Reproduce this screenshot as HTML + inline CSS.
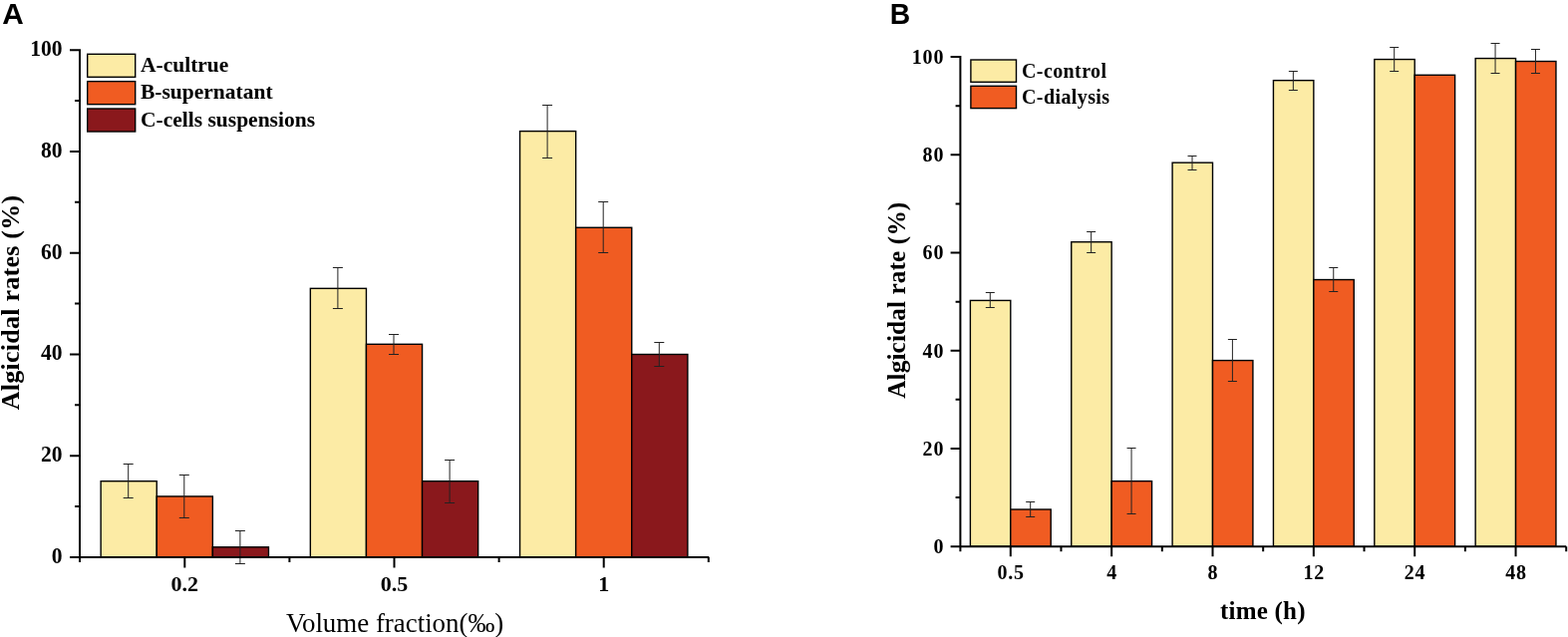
<!DOCTYPE html><html><head><meta charset="utf-8"><title>Algicidal rates</title>
<style>html,body{margin:0;padding:0;background:#fff;}svg{display:block;}.t{font-family:"Liberation Serif","Times New Roman",serif;font-weight:bold;fill:#000;}.r{font-family:"Liberation Serif","Times New Roman",serif;font-weight:normal;fill:#000;}.p{font-family:"Liberation Sans",Arial,sans-serif;font-weight:bold;fill:#000;}</style></head><body>
<svg width="1573" height="639" viewBox="0 0 1573 639">
<rect width="1573" height="639" fill="#fff"/>
<rect x="101.15" y="482.68" width="56.1" height="76.32" fill="#FCEBA5" stroke="#000" stroke-width="1.4"/>
<rect x="157.25" y="497.94" width="56.1" height="61.06" fill="#F05C22" stroke="#000" stroke-width="1.4"/>
<rect x="213.35" y="548.82" width="56.1" height="10.18" fill="#8A181C" stroke="#000" stroke-width="1.4"/>
<rect x="311.35" y="289.34" width="56.1" height="269.66" fill="#FCEBA5" stroke="#000" stroke-width="1.4"/>
<rect x="367.45" y="345.3" width="56.1" height="213.7" fill="#F05C22" stroke="#000" stroke-width="1.4"/>
<rect x="423.55" y="482.68" width="56.1" height="76.32" fill="#8A181C" stroke="#000" stroke-width="1.4"/>
<rect x="521.55" y="131.61" width="56.1" height="427.39" fill="#FCEBA5" stroke="#000" stroke-width="1.4"/>
<rect x="577.65" y="228.28" width="56.1" height="330.72" fill="#F05C22" stroke="#000" stroke-width="1.4"/>
<rect x="633.75" y="355.48" width="56.1" height="203.52" fill="#8A181C" stroke="#000" stroke-width="1.4"/>
<path d="M128.7 465.5V499.5M123.7 465.5H133.7M123.7 499.5H133.7" stroke="#222" stroke-width="1" fill="none"/>
<path d="M184.8 476.5V519.5M179.8 476.5H189.8M179.8 519.5H189.8" stroke="#222" stroke-width="1" fill="none"/>
<path d="M240.9 532.5V565.5M235.9 532.5H245.9M235.9 565.5H245.9" stroke="#222" stroke-width="1" fill="none"/>
<path d="M338.9 268.5V309.5M333.9 268.5H343.9M333.9 309.5H343.9" stroke="#222" stroke-width="1" fill="none"/>
<path d="M395 335.5V355.5M390 335.5H400M390 355.5H400" stroke="#222" stroke-width="1" fill="none"/>
<path d="M451.1 461.5V504.5M446.1 461.5H456.1M446.1 504.5H456.1" stroke="#222" stroke-width="1" fill="none"/>
<path d="M549.1 105.5V158.5M544.1 105.5H554.1M544.1 158.5H554.1" stroke="#222" stroke-width="1" fill="none"/>
<path d="M605.2 202.5V253.5M600.2 202.5H610.2M600.2 253.5H610.2" stroke="#222" stroke-width="1" fill="none"/>
<path d="M661.3 343.5V367.5M656.3 343.5H666.3M656.3 367.5H666.3" stroke="#222" stroke-width="1" fill="none"/>
<path d="M80 49.2V564M80 559H711.3M70 559H80M70 457.24H80M70 355.48H80M70 253.72H80M70 151.96H80M70 50.2H80M75 508.12H80M75 406.36H80M75 304.6H80M75 202.84H80M75 101.08H80M185.3 559V569.5M395.5 559V569.5M605.7 559V569.5M290.4 559V564M500.6 559V564M710.8 559V564" stroke="#000" stroke-width="2" fill="none"/>
<text class="t" transform="translate(62.6 564.85) scale(0.98 1.06)" font-size="22" text-anchor="end">0</text>
<text class="t" transform="translate(62.6 463.09) scale(0.98 1.06)" font-size="22" text-anchor="end">20</text>
<text class="t" transform="translate(62.6 361.33) scale(0.98 1.06)" font-size="22" text-anchor="end">40</text>
<text class="t" transform="translate(62.6 259.57) scale(0.98 1.06)" font-size="22" text-anchor="end">60</text>
<text class="t" transform="translate(62.6 157.81) scale(0.98 1.06)" font-size="22" text-anchor="end">80</text>
<text class="t" transform="translate(62.6 56.05) scale(0.98 1.06)" font-size="22" text-anchor="end">100</text>
<text class="t" x="185.3" y="592.5" font-size="22" text-anchor="middle">0.2</text>
<text class="t" x="395.5" y="592.5" font-size="22" text-anchor="middle">0.5</text>
<text class="t" x="605.7" y="592.5" font-size="22" text-anchor="middle">1</text>
<text class="t" transform="translate(18.9 411.2) rotate(-90)" font-size="26" letter-spacing="0.25">Algicidal rates (%)</text>
<text class="r" x="287" y="633.6" font-size="26.9">Volume fraction(‰)</text>
<rect x="87.7" y="54.3" width="48" height="23" fill="#FCEBA5" stroke="#000" stroke-width="1.4"/>
<text class="t" x="141" y="72" font-size="21.5">A-cultrue</text>
<rect x="87.7" y="81.65" width="48" height="23" fill="#F05C22" stroke="#000" stroke-width="1.4"/>
<text class="t" x="141" y="99.4" font-size="21.5">B-supernatant</text>
<rect x="87.7" y="109" width="48" height="23" fill="#8A181C" stroke="#000" stroke-width="1.4"/>
<text class="t" x="141" y="126.8" font-size="21.5">C-cells suspensions</text>
<text class="p" transform="translate(2.2 23.9)" font-size="29.8">A</text>
<rect x="973.4" y="301.42" width="40.4" height="246.78" fill="#FCEBA5" stroke="#000" stroke-width="1.4"/>
<rect x="1013.8" y="511.02" width="40.4" height="37.18" fill="#F05C22" stroke="#000" stroke-width="1.4"/>
<rect x="1074.75" y="242.74" width="40.4" height="305.46" fill="#FCEBA5" stroke="#000" stroke-width="1.4"/>
<rect x="1115.15" y="482.64" width="40.4" height="65.56" fill="#F05C22" stroke="#000" stroke-width="1.4"/>
<rect x="1176.1" y="163.18" width="40.4" height="385.02" fill="#FCEBA5" stroke="#000" stroke-width="1.4"/>
<rect x="1216.5" y="361.58" width="40.4" height="186.62" fill="#F05C22" stroke="#000" stroke-width="1.4"/>
<rect x="1277.45" y="80.67" width="40.4" height="467.53" fill="#FCEBA5" stroke="#000" stroke-width="1.4"/>
<rect x="1317.85" y="280.55" width="40.4" height="267.65" fill="#F05C22" stroke="#000" stroke-width="1.4"/>
<rect x="1378.8" y="59.56" width="40.4" height="488.64" fill="#FCEBA5" stroke="#000" stroke-width="1.4"/>
<rect x="1419.2" y="75.27" width="40.4" height="472.93" fill="#F05C22" stroke="#000" stroke-width="1.4"/>
<rect x="1480.15" y="58.57" width="40.4" height="489.63" fill="#FCEBA5" stroke="#000" stroke-width="1.4"/>
<rect x="1520.55" y="61.52" width="40.4" height="486.68" fill="#F05C22" stroke="#000" stroke-width="1.4"/>
<path d="M993.3 293.5V308.5M988.8 293.5H997.8M988.8 308.5H997.8" stroke="#222" stroke-width="1" fill="none"/>
<path d="M1033.7 503.5V518.5M1029.2 503.5H1038.2M1029.2 518.5H1038.2" stroke="#222" stroke-width="1" fill="none"/>
<path d="M1094.65 232.5V253.5M1090.15 232.5H1099.15M1090.15 253.5H1099.15" stroke="#222" stroke-width="1" fill="none"/>
<path d="M1135.05 449.5V515.5M1130.55 449.5H1139.55M1130.55 515.5H1139.55" stroke="#222" stroke-width="1" fill="none"/>
<path d="M1196 156.5V170.5M1191.5 156.5H1200.5M1191.5 170.5H1200.5" stroke="#222" stroke-width="1" fill="none"/>
<path d="M1236.4 340.5V382.5M1231.9 340.5H1240.9M1231.9 382.5H1240.9" stroke="#222" stroke-width="1" fill="none"/>
<path d="M1297.35 71.5V90.5M1292.85 71.5H1301.85M1292.85 90.5H1301.85" stroke="#222" stroke-width="1" fill="none"/>
<path d="M1337.75 268.5V292.5M1333.25 268.5H1342.25M1333.25 292.5H1342.25" stroke="#222" stroke-width="1" fill="none"/>
<path d="M1398.7 47.5V71.5M1394.2 47.5H1403.2M1394.2 71.5H1403.2" stroke="#222" stroke-width="1" fill="none"/>
<path d="M1500.05 43.5V73.5M1495.55 43.5H1504.55M1495.55 73.5H1504.55" stroke="#222" stroke-width="1" fill="none"/>
<path d="M1540.45 49.5V73.5M1535.95 49.5H1544.95M1535.95 73.5H1544.95" stroke="#222" stroke-width="1" fill="none"/>
<path d="M963.4 56.1V553.2M963.4 548.2H1571.25M953.6 548.2H963.4M953.6 449.98H963.4M953.6 351.76H963.4M953.6 253.54H963.4M953.6 155.32H963.4M953.6 57.1H963.4M958.6 499.09H963.4M958.6 400.87H963.4M958.6 302.65H963.4M958.6 204.43H963.4M958.6 106.21H963.4M1013.8 548.2V558.2M1115.15 548.2V558.2M1216.5 548.2V558.2M1317.85 548.2V558.2M1419.2 548.2V558.2M1520.55 548.2V558.2M1064.47 548.2V553.2M1165.82 548.2V553.2M1267.17 548.2V553.2M1368.52 548.2V553.2M1469.87 548.2V553.2M1571.22 548.2V553.2" stroke="#000" stroke-width="2" fill="none"/>
<text class="t" x="947.2" y="555" font-size="20" text-anchor="end" letter-spacing="0.8">0</text>
<text class="t" x="947.2" y="456.78" font-size="20" text-anchor="end" letter-spacing="0.8">20</text>
<text class="t" x="947.2" y="358.56" font-size="20" text-anchor="end" letter-spacing="0.8">40</text>
<text class="t" x="947.2" y="260.34" font-size="20" text-anchor="end" letter-spacing="0.8">60</text>
<text class="t" x="947.2" y="162.12" font-size="20" text-anchor="end" letter-spacing="0.8">80</text>
<text class="t" x="947.2" y="63.9" font-size="20" text-anchor="end" letter-spacing="0.8">100</text>
<text class="t" x="1014.2" y="580.6" font-size="20" text-anchor="middle" letter-spacing="0.8">0.5</text>
<text class="t" x="1115.55" y="580.6" font-size="20" text-anchor="middle" letter-spacing="0.8">4</text>
<text class="t" x="1216.9" y="580.6" font-size="20" text-anchor="middle" letter-spacing="0.8">8</text>
<text class="t" x="1318.25" y="580.6" font-size="20" text-anchor="middle" letter-spacing="0.8">12</text>
<text class="t" x="1419.6" y="580.6" font-size="20" text-anchor="middle" letter-spacing="0.8">24</text>
<text class="t" x="1520.95" y="580.6" font-size="20" text-anchor="middle" letter-spacing="0.8">48</text>
<text class="t" transform="translate(907.6 399.8) rotate(-90)" font-size="25.3" letter-spacing="0.1">Algicidal rate (%)</text>
<text class="t" x="1224" y="620.7" font-size="25" letter-spacing="0.22">time (h)</text>
<rect x="973.9" y="60" width="45.6" height="22.3" fill="#FCEBA5" stroke="#000" stroke-width="1.4"/>
<text class="t" x="1025" y="77.5" font-size="20" letter-spacing="0.4">C-control</text>
<rect x="973.9" y="86.3" width="45.6" height="22.3" fill="#F05C22" stroke="#000" stroke-width="1.4"/>
<text class="t" x="1025" y="103.8" font-size="20" letter-spacing="0.4">C-dialysis</text>
<text class="p" transform="translate(892.8 23.7) scale(0.95 1)" font-size="29.8">B</text>
</svg></body></html>
